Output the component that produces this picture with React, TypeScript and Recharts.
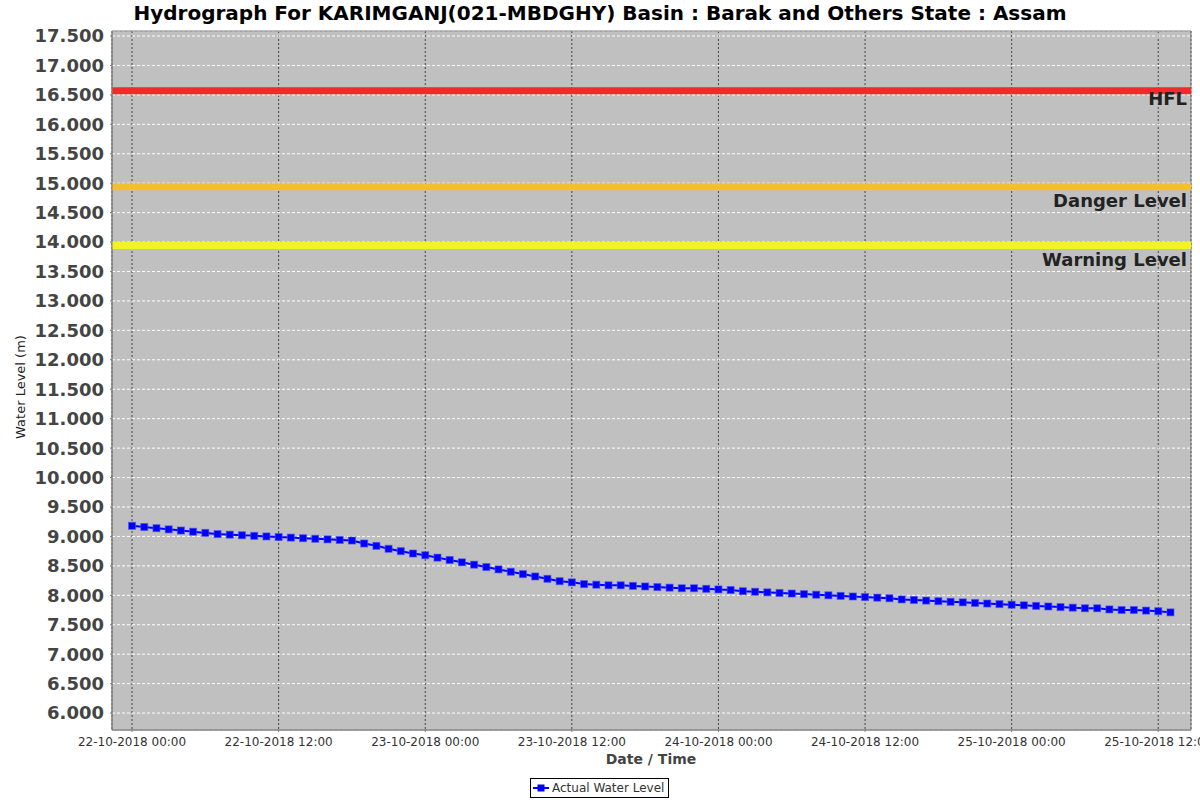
import React from 'react';
import { LineChart, Line, XAxis, YAxis, CartesianGrid, ReferenceLine, ReferenceArea } from 'recharts';

// Hourly water level readings starting 22-10-2018 00:00
const levels = [
  9.18, 9.16, 9.14, 9.12, 9.10, 9.08, 9.06, 9.04, 9.03, 9.02, 9.01, 9.00,
  8.99, 8.98, 8.97, 8.96, 8.95, 8.94, 8.93, 8.88, 8.84, 8.79, 8.75, 8.71,
  8.68, 8.64, 8.60, 8.56, 8.52, 8.48, 8.44, 8.40, 8.36, 8.32, 8.28, 8.24,
  8.22, 8.19, 8.18, 8.17, 8.17, 8.16, 8.15, 8.14, 8.13, 8.12, 8.12, 8.11,
  8.10, 8.09, 8.07, 8.06, 8.05, 8.04, 8.03, 8.02, 8.01, 8.00, 7.99, 7.98,
  7.97, 7.96, 7.95, 7.93, 7.92, 7.91, 7.90, 7.89, 7.88, 7.87, 7.86, 7.85,
  7.84, 7.83, 7.82, 7.81, 7.80, 7.79, 7.78, 7.78, 7.76, 7.75, 7.75, 7.74,
  7.73, 7.71,
];

const xTicks = [0, 12, 24, 36, 48, 60, 72, 84];
const xTickLabels = [
  '22-10-2018 00:00', '22-10-2018 12:00', '23-10-2018 00:00', '23-10-2018 12:00',
  '24-10-2018 00:00', '24-10-2018 12:00', '25-10-2018 00:00', '25-10-2018 12:00',
];
const yTicks = [6, 6.5, 7, 7.5, 8, 8.5, 9, 9.5, 10, 10.5, 11, 11.5, 12, 12.5, 13, 13.5, 14, 14.5, 15, 15.5, 16, 16.5, 17, 17.5];

const levelNames = ['HFL', 'Danger Level', 'Warning Level'];
const levelValues = [16.57, 14.94, 13.94];
const levelColors = ['#f42a2a', '#f2c12a', '#f2f224'];
const levelLabelOffsets = [14, 20, 20];

const X_DOMAIN: [number, number] = [-1.64, 86.68];
const Y_DOMAIN: [number, number] = [5.712, 17.585];

const data = levels.map((v, i) => ({ h: i, level: v }));

const FONT = '"DejaVu Sans", sans-serif';

const SquareDot = (props: any) => {
  const { cx, cy } = props;
  if (cx == null || cy == null) return null;
  return (
    <rect x={cx - 3.5} y={cy - 3.5} width={7} height={7} fill="#0000ff" stroke="#4a4aff" strokeOpacity={0.6} strokeWidth={1} />
  );
};

const makeLevelLabel = (name: string, offset: number) => (props: any) => {
  const vb = props.viewBox || {};
  return (
    <text
      x={vb.x + vb.width - 4}
      y={vb.y + offset}
      textAnchor="end"
      fontFamily={FONT}
      fontWeight="bold"
      fontSize={18}
      fill="#222"
    >
      {name}
    </text>
  );
};

const formatX = (v: number) => {
  const idx = xTicks.indexOf(v);
  return idx >= 0 ? xTickLabels[idx] : '';
};

export default function App() {
  return (
    <div style={{ position: 'absolute', left: 0, top: 0, width: 1200, height: 800, background: '#fff', overflow: 'hidden' }}>
      <div
        style={{
          position: 'absolute', left: 0, top: 0, width: 1200, textAlign: 'center',
          fontFamily: FONT, fontWeight: 'bold', fontSize: 20, lineHeight: '26px', color: '#000',
        }}
      >
        Hydrograph For KARIMGANJ(021-MBDGHY) Basin : Barak and Others State : Assam
      </div>
      <LineChart width={1200} height={800} data={data} margin={{ top: 31, right: 9, bottom: 0, left: 0 }}>
        <CartesianGrid horizontal={false} vertical={true} fill="#c0c0c0" fillOpacity={1} stroke="#444" strokeDasharray="2 2" />
        <CartesianGrid horizontal={true} vertical={false} stroke="#ffffff" strokeDasharray="3 2" />
        <XAxis
          dataKey="h"
          type="number"
          domain={X_DOMAIN}
          allowDataOverflow
          ticks={xTicks}
          tickFormatter={formatX}
          height={70}
          tickSize={2}
          tickMargin={5}
          axisLine={{ stroke: '#808080' }}
          tickLine={{ stroke: '#808080' }}
          tick={{ fontFamily: FONT, fontSize: 12, fill: '#333' }}
          interval={0}
          label={{
            content: () => (
              <text x={651} y={764} textAnchor="middle" fontFamily={FONT} fontWeight="bold" fontSize={14} fill="#444">
                Date / Time
              </text>
            ),
          }}
        />
        <YAxis
          type="number"
          domain={Y_DOMAIN}
          allowDataOverflow
          ticks={yTicks}
          tickFormatter={(v: number) => v.toFixed(3)}
          width={112}
          tickSize={2}
          tickMargin={6}
          axisLine={{ stroke: '#808080' }}
          tickLine={{ stroke: '#808080' }}
          tick={{ fontFamily: FONT, fontSize: 18, fontWeight: 'bold', fill: '#444' }}
          interval={0}
          label={{
            content: () => (
              <text
                x={0}
                y={0}
                transform="translate(25 387) rotate(-90)"
                textAnchor="middle"
                fontFamily={FONT}
                fontSize={13}
                fill="#222"
              >
                Water Level (m)
              </text>
            ),
          }}
        />
        <ReferenceArea
          x1={X_DOMAIN[0]}
          x2={X_DOMAIN[1]}
          y1={Y_DOMAIN[0]}
          y2={Y_DOMAIN[1]}
          fill="none"
          stroke="#808080"
          strokeWidth={1}
          ifOverflow="visible"
        />
        {levelValues.map((v, i) => (
          <ReferenceLine
            key={levelNames[i]}
            y={v}
            stroke={levelColors[i]}
            strokeWidth={7}
            label={makeLevelLabel(levelNames[i], levelLabelOffsets[i])}
          />
        ))}
        <Line
          type="linear"
          dataKey="level"
          stroke="#0000ff"
          strokeWidth={2}
          dot={<SquareDot />}
          activeDot={false}
          isAnimationActive={false}
        />
      </LineChart>
      <div
        style={{
          position: 'absolute', left: 530, top: 778, width: 137, height: 18,
          border: '1px solid #000', background: '#fff', fontFamily: FONT, fontSize: 12,
          color: '#333', lineHeight: '18px', whiteSpace: 'nowrap',
        }}
      >
        <svg width={18} height={18} style={{ position: 'absolute', left: 2, top: 0 }}>
          <line x1={0} y1={9} x2={16} y2={9} stroke="#0000ff" strokeWidth={2} />
          <rect x={4.5} y={5.5} width={7} height={7} fill="#0000ff" />
        </svg>
        <span style={{ position: 'absolute', left: 21, top: 0 }}>Actual Water Level</span>
      </div>
    </div>
  );
}
